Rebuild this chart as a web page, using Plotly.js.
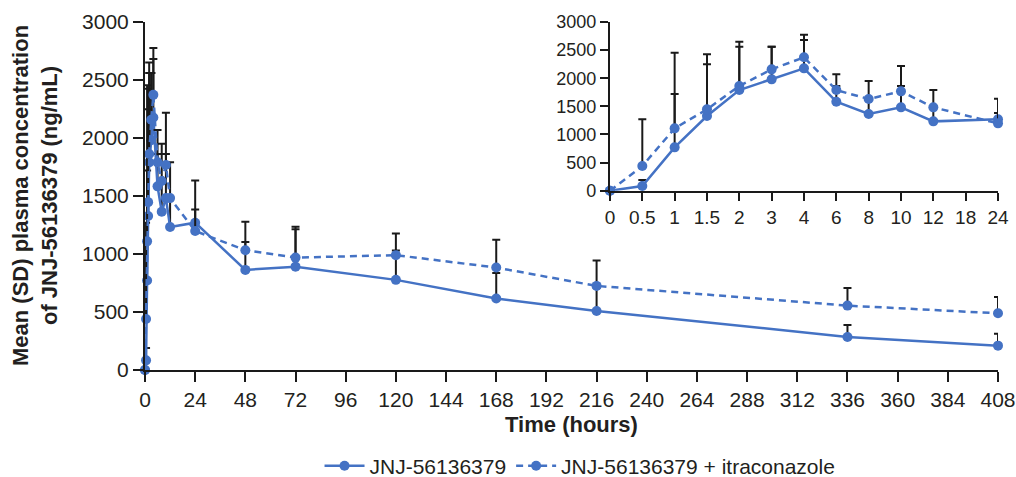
<!DOCTYPE html>
<html>
<head>
<meta charset="utf-8">
<script src="https://cdn.plot.ly/plotly-3.0.1.min.js"></script>
<style>html,body{margin:0;padding:0;background:#fff;}#chart{width:1016px;height:477px;}</style>
</head>
<body>
<div id="chart"></div>
<script>
// Time points (hours)
const times = [0, 0.5, 1, 1.5, 2, 3, 4, 6, 8, 10, 12, 24, 48, 72, 120, 168, 216, 336, 408];
// JNJ-56136379 alone: mean and SD (ng/mL)
const aloneMean = [0, 83, 771, 1328, 1790, 1980, 2176, 1583, 1364, 1482, 1233, 1270, 863, 891, 777, 616, 509, 285, 210];
const aloneSD   = [0, 107, 948, 919, 771, 581, 504, 279, 260, 380, 250, 364, 241, 323, 253, 221, 200, 103, 103];
// JNJ-56136379 + itraconazole: mean and SD (ng/mL)
const itraMean = [0, 439, 1109, 1447, 1862, 2158, 2372, 1790, 1630, 1767, 1482, 1198, 1033, 969, 990, 883, 725, 555, 489];
const itraSD   = [0, 830, 1346, 978, 788, 403, 403, 279, 320, 450, 308, 186, 244, 265, 186, 239, 218, 152, 141];
// Axis ticks
const mainXTicks = [0, 24, 48, 72, 96, 120, 144, 168, 192, 216, 240, 264, 288, 312, 336, 360, 384, 408];
const yTicks = [0, 500, 1000, 1500, 2000, 2500, 3000];
const insetLabels = ['0', '0.5', '1', '1.5', '2', '3', '4', '6', '8', '10', '12', '18', '24'];

const seriesNames = ['JNJ-56136379', 'JNJ-56136379 + itraconazole'];
const blue = '#4472c4';
const txt = '#231f20';
const font = 'Liberation Sans, Arial, Helvetica, sans-serif';

// Inset: first 24 h, on an evenly spaced (ordinal) axis
const insetIdx = [];
times.forEach((t, i) => { const k = insetLabels.indexOf(String(t)); if (k >= 0) insetIdx.push(i); });
const insetX = insetIdx.map(i => insetLabels.indexOf(String(times[i])));
const pick = (arr) => insetIdx.map(i => arr[i]);
const zeros = (arr) => arr.map(() => 0);

function trace(x, y, sd, dash, name, xa, ya, showlegend) {
  return {
    x: x, y: y, name: name, type: 'scatter', mode: 'lines+markers',
    xaxis: xa, yaxis: ya, showlegend: showlegend, cliponaxis: false,
    line: {color: blue, width: 2.5, dash: dash},
    marker: {color: blue, size: 10},
    error_y: {type: 'data', symmetric: false, array: sd, arrayminus: zeros(sd),
              color: '#1a1a1a', thickness: 2, width: 4}
  };
}

const data = [
  trace(times, aloneMean, aloneSD, 'solid', seriesNames[0], 'x', 'y', true),
  trace(times, itraMean, itraSD, '7px,5px', seriesNames[1], 'x', 'y', true),
  trace(insetX, pick(aloneMean), pick(aloneSD), 'solid', seriesNames[0], 'x2', 'y2', false),
  trace(insetX, pick(itraMean), pick(itraSD), '7px,5px', seriesNames[1], 'x2', 'y2', false)
];

const axisCommon = {
  showline: true, linecolor: '#1a1a1a', linewidth: 2, ticks: 'outside',
  tickcolor: '#1a1a1a', tickwidth: 2, showgrid: false, zeroline: false,
  fixedrange: true, automargin: false
};

const layout = {
  width: 1016, height: 477,
  margin: {l: 145, r: 18, t: 22, b: 107, autoexpand: false},
  paper_bgcolor: '#fff', plot_bgcolor: 'rgba(0,0,0,0)',
  font: {family: font, color: txt, size: 21},
  xaxis: Object.assign({}, axisCommon, {
    range: [0, 408], tickvals: mainXTicks, ticklen: 10,
    tickfont: {size: 21, color: txt},
    title: {text: '<b>Time (hours)</b>', font: {size: 22, color: txt}, standoff: 6}
  }),
  yaxis: Object.assign({}, axisCommon, {
    range: [0, 3000], tickvals: yTicks, ticklen: 10,
    tickfont: {size: 21, color: txt}
  }),
  xaxis2: Object.assign({}, axisCommon, {
    domain: [0.5451, 1], anchor: 'y2', range: [0, insetLabels.length - 1],
    tickvals: insetLabels.map((_, i) => i), ticktext: insetLabels, ticklen: 8,
    tickfont: {size: 19, color: txt}
  }),
  yaxis2: Object.assign({}, axisCommon, {
    domain: [0.5152, 1], anchor: 'x2', range: [0, 3000], tickvals: yTicks,
    ticklen: 8, tickfont: {size: 18, color: txt}
  }),
  annotations: [{
    text: '<b>Mean (SD) plasma concentration<br>of JNJ-56136379 (ng/mL)</b>',
    textangle: -90, xref: 'paper', yref: 'paper', x: 0, y: 0.5,
    xanchor: 'center', yanchor: 'middle', xshift: -110, showarrow: false,
    font: {size: 22, color: txt}
  }],
  legend: {
    orientation: 'h', xref: 'paper', yref: 'paper', x: 0.51, xanchor: 'center',
    y: -0.276, yanchor: 'middle', font: {size: 21, color: txt},
    itemwidth: 40, bgcolor: 'rgba(0,0,0,0)'
  },
  showlegend: true
};

Plotly.newPlot('chart', data, layout, {staticPlot: true, displayModeBar: false});
</script>
</body>
</html>
